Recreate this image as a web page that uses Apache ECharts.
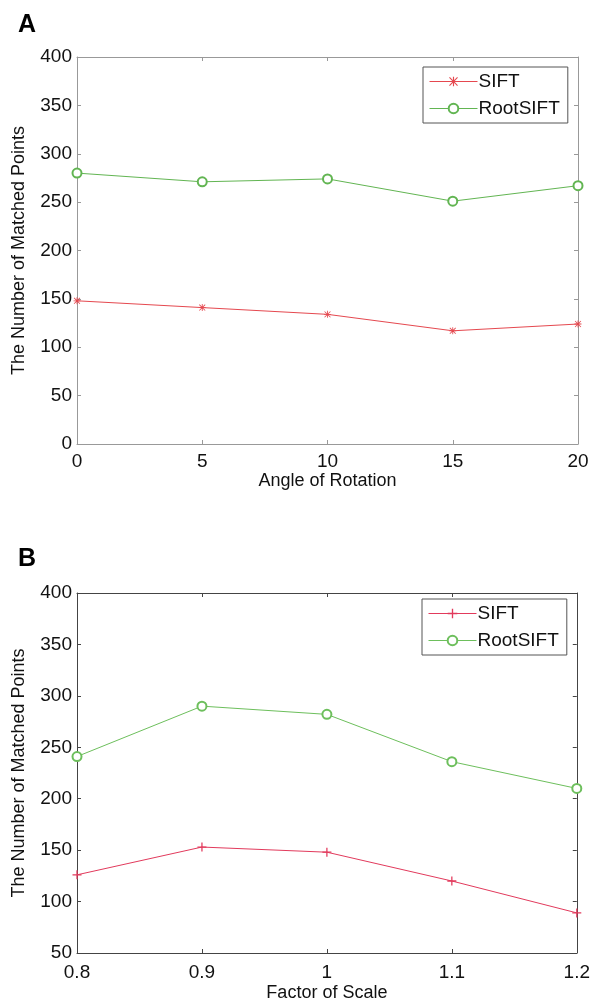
<!DOCTYPE html>
<html>
<head>
<meta charset="utf-8">
<script src="https://cdn.jsdelivr.net/npm/echarts@6/dist/echarts.min.js"></script>
<style>html,body{margin:0;padding:0;background:#fff}#c{width:593px;height:1003px}</style>
</head>
<body>
<div id="c"></div>
<script>
// Panel A: rotation
const rotationAngles = [0, 5, 10, 15, 20];
const siftRotation = [148, 141, 134, 117, 124];
const rootsiftRotation = [280, 271, 274, 251, 267];
const rotationYTicks = [0, 400, 50];
// Panel B: scale
const scaleFactors = [0.8, 0.9, 1.0, 1.1, 1.2];
const siftScale = [126, 153, 148, 120, 89];
const rootsiftScale = [241, 290, 282, 236, 210];
const scaleYTicks = [50, 400, 50];
const seriesNames = ['SIFT', 'RootSIFT'];

const FONT = 'Liberation Sans, Arial, sans-serif';
const ASTERISK = 'path://M4.4 0 H5.6 V10 H4.4 Z M0 4.4 H10 V5.6 H0 Z M1.2 0.4 L9.6 8.8 L8.8 9.6 L0.4 1.2 Z M8.8 0.4 L9.6 1.2 L1.2 9.6 L0.4 8.8 Z';
const PLUS = 'path://M4.3 0 H5.7 V10 H4.3 Z M0 4.3 H10 V5.7 H0 Z';

const chart = echarts.init(document.getElementById('c'), null, {renderer: 'canvas'});
const pair = (xs, ys) => xs.map((x, i) => [x, ys[i]]);

function axisStyle(color) {
  return {
    axisLine: {show: true, onZero: false, lineStyle: {color: color, width: 1}},
    axisTick: {show: true, inside: true, length: 4, lineStyle: {color: color}},
    splitLine: {show: false}
  };
}

const tickLabel = {color: '#111', fontSize: 19, fontFamily: FONT};
const nameStyle = {color: '#111', fontSize: 18, fontFamily: FONT};

function legendBox(names, left, top, fmt) {
  const l = {
    data: names,
    orient: 'vertical', left: left, top: top,
    backgroundColor: '#fff', borderColor: '#555', borderWidth: 1,
    padding: [5, 8, 5, 6], itemGap: 8, itemWidth: 48, itemHeight: 12,
    lineStyle: {width: 1},
    itemStyle: {borderWidth: 1},
    textStyle: {fontSize: 19, fontFamily: FONT, color: '#111', padding: [0, 0, 0, -4]}
  };
  if (fmt) l.formatter = fmt;
  return l;
}

const option = {
  backgroundColor: '#fff',
  animation: false,
  title: [
    {text: 'A', left: 13, top: 8, textStyle: {fontSize: 25, fontWeight: 'bold', color: '#000', fontFamily: FONT}},
    {text: 'B', left: 13, top: 542, textStyle: {fontSize: 25, fontWeight: 'bold', color: '#000', fontFamily: FONT}}
  ],
  grid: [
    {left: 77, top: 57, width: 501, height: 387, show: false},
    {left: 77, top: 593, width: 500, height: 360, show: false}
  ],
  legend: [
    legendBox(seriesNames.slice(), 423, 67),
    legendBox(seriesNames.map(n => n + ' '), 422, 599, n => n.trim())
  ],
  xAxis: [
    Object.assign({
      type: 'value', gridIndex: 0, min: rotationAngles[0], max: rotationAngles[rotationAngles.length - 1], interval: 5,
      position: 'bottom',
      axisLabel: Object.assign({margin: 8}, tickLabel),
      name: 'Angle of Rotation', nameLocation: 'middle', nameGap: 28, nameTextStyle: nameStyle
    }, axisStyle('#999')),
    Object.assign({
      type: 'value', gridIndex: 0, min: rotationAngles[0], max: rotationAngles[rotationAngles.length - 1], interval: 5,
      position: 'top', axisLabel: {show: false}
    }, axisStyle('#999')),
    Object.assign({
      type: 'value', gridIndex: 1, min: 0.8, max: 1.2, interval: 0.1,
      position: 'bottom',
      axisLabel: Object.assign({margin: 10, formatter: v => String(+(+v).toFixed(1))}, tickLabel),
      name: 'Factor of Scale', nameLocation: 'middle', nameGap: 31, nameTextStyle: nameStyle
    }, axisStyle('#444')),
    Object.assign({
      type: 'value', gridIndex: 1, min: 0.8, max: 1.2, interval: 0.1,
      position: 'top', axisLabel: {show: false}
    }, axisStyle('#444'))
  ],
  yAxis: [
    Object.assign({
      type: 'value', gridIndex: 0, min: rotationYTicks[0], max: rotationYTicks[1], interval: rotationYTicks[2],
      position: 'left',
      axisLabel: Object.assign({margin: 5}, tickLabel),
      name: 'The Number of Matched Points', nameLocation: 'middle', nameGap: 49, nameRotate: 90, nameTextStyle: nameStyle
    }, axisStyle('#999')),
    Object.assign({
      type: 'value', gridIndex: 0, min: rotationYTicks[0], max: rotationYTicks[1], interval: rotationYTicks[2],
      position: 'right', axisLabel: {show: false}
    }, axisStyle('#999')),
    Object.assign({
      type: 'value', gridIndex: 1, min: scaleYTicks[0], max: scaleYTicks[1], interval: scaleYTicks[2],
      position: 'left',
      axisLabel: Object.assign({margin: 5}, tickLabel),
      name: 'The Number of Matched Points', nameLocation: 'middle', nameGap: 49, nameRotate: 90, nameTextStyle: nameStyle
    }, axisStyle('#444')),
    Object.assign({
      type: 'value', gridIndex: 1, min: scaleYTicks[0], max: scaleYTicks[1], interval: scaleYTicks[2],
      position: 'right', axisLabel: {show: false}
    }, axisStyle('#444'))
  ],
  series: [
    {
      name: seriesNames[0], type: 'line', xAxisIndex: 0, yAxisIndex: 0,
      data: pair(rotationAngles, siftRotation),
      symbol: ASTERISK, symbolSize: 7, showAllSymbol: true,
      lineStyle: {color: '#e5484f', width: 1}, itemStyle: {color: '#e5484f'}
    },
    {
      name: seriesNames[1], type: 'line', xAxisIndex: 0, yAxisIndex: 0,
      data: pair(rotationAngles, rootsiftRotation),
      symbol: 'emptyCircle', symbolSize: 9, showAllSymbol: true,
      lineStyle: {color: '#62b552', width: 1}, itemStyle: {color: '#62b552', borderWidth: 1}
    },
    {
      name: seriesNames[0] + ' ', type: 'line', xAxisIndex: 2, yAxisIndex: 2,
      data: pair(scaleFactors, siftScale),
      symbol: PLUS, symbolSize: 9, showAllSymbol: true,
      lineStyle: {color: '#e23a5c', width: 1}, itemStyle: {color: '#e23a5c'}
    },
    {
      name: seriesNames[1] + ' ', type: 'line', xAxisIndex: 2, yAxisIndex: 2,
      data: pair(scaleFactors, rootsiftScale),
      symbol: 'emptyCircle', symbolSize: 9, showAllSymbol: true,
      lineStyle: {color: '#6dbf5c', width: 1}, itemStyle: {color: '#6dbf5c', borderWidth: 1}
    }
  ]
};
chart.setOption(option);
</script>
</body>
</html>
